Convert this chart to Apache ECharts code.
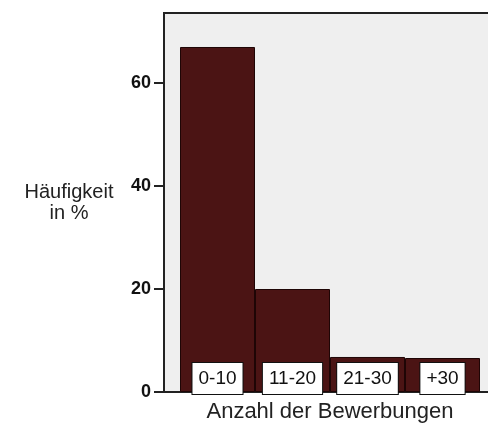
<!DOCTYPE html>
<html><head><meta charset="utf-8">
<script src="https://cdn.jsdelivr.net/npm/echarts@6/dist/echarts.min.js"></script>
<style>html,body{margin:0;padding:0;background:#fff}#c{width:488px;height:423px}</style>
</head><body><div id="c"></div>
<script>
const categories = ['0-10', '11-20', '21-30', '+30'];
const values = [67, 20, 6.8, 6.6];
const yTicks = [0, 20, 40, 60];
const yMax = 73.6;

const chart = echarts.init(document.getElementById('c'), null, {renderer: 'canvas'});
chart.setOption({
  animation: false,
  grid: [
    {left: 164, top: 13, width: 380, bottom: 31, outerBoundsMode: 'none', containLabel: false, show: true, backgroundColor: '#efefef', borderColor: '#222', borderWidth: 2},
    {left: 180, top: 13, right: 8, bottom: 31, outerBoundsMode: 'none', containLabel: false}
  ],
  xAxis: [
    {gridIndex: 0, type: 'category', data: [''], axisLine: {lineStyle: {color: '#222', width: 2}}, axisTick: {show: false}, axisLabel: {show: false}},
    {gridIndex: 1, type: 'category', data: categories, axisLine: {show: false}, axisTick: {show: false}, axisLabel: {show: false},
     name: 'Anzahl der Bewerbungen', nameLocation: 'middle', nameGap: 9,
     nameTextStyle: {fontFamily: 'Liberation Sans', fontSize: 22, color: '#222', verticalAlign: 'top'}}
  ],
  yAxis: [
    {gridIndex: 0, type: 'value', min: 0, max: yMax, interval: 20,
     axisLine: {show: true, lineStyle: {color: '#222', width: 2}},
     axisTick: {show: true, length: 10, lineStyle: {color: '#222', width: 2}, customValues: yTicks},
     axisLabel: {margin: 13, fontFamily: 'Liberation Sans', fontWeight: 'bold', fontSize: 18, color: '#111', customValues: yTicks},
     splitLine: {show: false},
     name: 'Häufigkeit\nin %', nameLocation: 'middle', nameRotate: 0, nameGap: 95,
     nameTextStyle: {fontFamily: 'Liberation Sans', fontSize: 20, color: '#222', align: 'center', lineHeight: 21, padding: [10, 0, 0, 0]}},
    {gridIndex: 1, type: 'value', min: 0, max: yMax, show: false, splitLine: {show: false}}
  ],
  series: [{
    type: 'bar', xAxisIndex: 1, yAxisIndex: 1, data: values, barCategoryGap: 0,
    itemStyle: {color: '#4b1414', borderColor: '#1e0505', borderWidth: 1},
    label: {show: true, position: 'insideBottom', distance: 0, offset: [0, 2],
      formatter: p => categories[p.dataIndex],
      fontFamily: 'Liberation Sans', fontSize: 19, color: '#111', lineHeight: 22,
      backgroundColor: '#fff', borderColor: '#111', borderWidth: 1, padding: [5, 6, 4, 6]}
  }]
});
</script></body></html>
